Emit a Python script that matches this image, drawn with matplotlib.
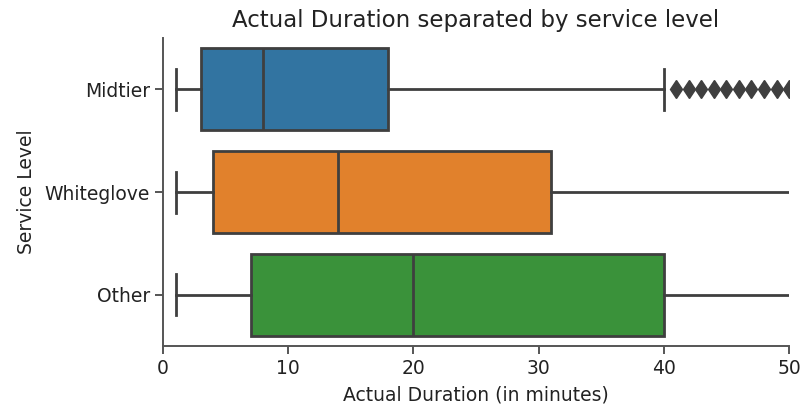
import matplotlib
matplotlib.use("Agg")
import matplotlib.pyplot as plt

# Summary statistics of the trip durations per service level (minutes)
levels = ["Midtier", "Whiteglove", "Other"]
whisker_low = [1, 1, 1]
q1 = [3, 4, 7]
median = [8, 14, 20]
q3 = [18, 31, 40]
whisker_high = [40, 70, 80]
midtier_outliers = [41, 42, 43, 44, 45, 46, 47, 48, 49, 50]
outliers = [midtier_outliers, [], []]

colors = ["#3274a1", "#e1812c", "#3a923a"]
line_color = "#3f3f3f"
lw = 2.0

stats = []
for i, name in enumerate(levels):
    stats.append({
        "label": name,
        "whislo": whisker_low[i],
        "q1": q1[i],
        "med": median[i],
        "q3": q3[i],
        "whishi": whisker_high[i],
        "fliers": outliers[i],
    })

fig = plt.figure(figsize=(8.03, 4.09), dpi=100)
ax = fig.add_axes([0.203, 0.1535, 0.7796, 0.7535])

bp = ax.bxp(
    stats,
    positions=range(len(levels)),
    vert=False,
    widths=0.8,
    patch_artist=True,
    showfliers=True,
    boxprops=dict(edgecolor=line_color, linewidth=lw),
    medianprops=dict(color=line_color, linewidth=lw),
    whiskerprops=dict(color=line_color, linewidth=lw),
    capprops=dict(color=line_color, linewidth=lw),
    flierprops=dict(marker="d", markersize=9.5, markerfacecolor=line_color,
                    markeredgecolor=line_color, linestyle="none"),
)
for patch, c in zip(bp["boxes"], colors):
    patch.set_facecolor(c)

ax.set_xlim(0, 50)
ax.set_ylim(2.5, -0.5)
ax.set_yticks(range(len(levels)))
ax.set_yticklabels(levels)
ax.set_xticks([0, 10, 20, 30, 40, 50])
ax.spines["top"].set_visible(False)
ax.spines["right"].set_visible(False)
for s in ("left", "bottom"):
    ax.spines[s].set_color("#555555")
    ax.spines[s].set_linewidth(1.4)
ax.tick_params(colors="#555555", labelcolor="#222222", labelsize=13.5,
               length=6, width=1.4)

ax.set_xlabel("Actual Duration (in minutes)", fontsize=13.5, color="#222222",
              labelpad=5)
ax.set_ylabel("Service Level", fontsize=13.5, color="#222222", labelpad=6)
ax.set_title("Actual Duration separated by service level", fontsize=16.5,
             color="#222222", pad=8)

fig.savefig("out.png", dpi=100)
